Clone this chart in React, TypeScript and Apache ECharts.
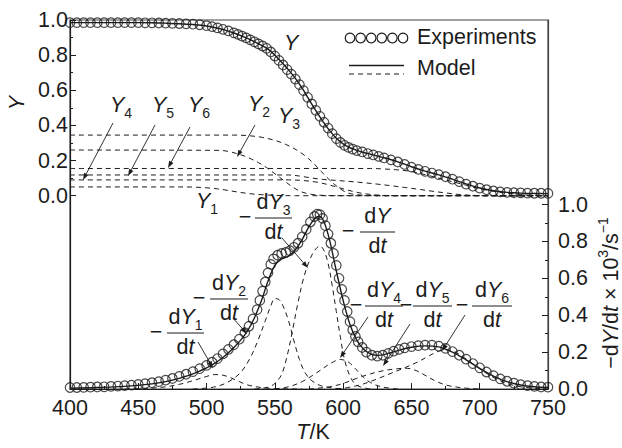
import React, { useEffect, useRef } from "react";
import * as echarts from "echarts";

// ---------- data (T in K) ----------
const xTicks = [400, 450, 500, 550, 600, 650, 700, 750];
const leftTickValues = [0, 0.2, 0.4, 0.6, 0.8, 1.0];
const leftMinorValues = [0.1, 0.3, 0.5, 0.7, 0.9];
const rightTickValues = [0, 0.2, 0.4, 0.6, 0.8, 1.0];
const rightMinorValues = [0.1, 0.3, 0.5, 0.7, 0.9];

// Experimental residual fraction Y
const expY: number[][] = [
  [400, 0.985], [405, 0.985], [410, 0.985], [415, 0.985], [420, 0.985], [425, 0.985], [430, 0.985],
  [435, 0.985], [440, 0.985], [445, 0.985], [450, 0.985], [455, 0.984], [460, 0.984], [465, 0.983],
  [470, 0.982], [475, 0.981], [480, 0.98], [485, 0.978], [490, 0.976], [495, 0.973], [500, 0.968],
  [504, 0.962], [508, 0.955], [512, 0.947], [516, 0.938], [520, 0.927], [523, 0.918], [526, 0.908],
  [529, 0.898], [532, 0.887], [535, 0.876], [538, 0.864], [541, 0.852], [544, 0.839], [547, 0.818],
  [550, 0.795], [553, 0.77], [556, 0.744], [559, 0.718], [562, 0.692], [565, 0.664], [568, 0.632],
  [571, 0.598], [574, 0.56], [577, 0.522], [580, 0.486], [583, 0.452], [586, 0.418], [589, 0.385],
  [592, 0.353], [595, 0.325], [598, 0.303], [601, 0.287], [604, 0.275], [607, 0.265], [610, 0.257],
  [614, 0.249], [618, 0.24], [622, 0.232], [626, 0.224], [630, 0.215], [635, 0.204], [640, 0.192],
  [645, 0.178], [650, 0.163], [655, 0.15], [660, 0.139], [665, 0.129], [670, 0.12], [675, 0.108],
  [680, 0.094], [685, 0.08], [690, 0.066], [695, 0.054], [700, 0.043], [705, 0.034], [710, 0.027],
  [715, 0.022], [720, 0.019], [725, 0.017], [730, 0.016], [735, 0.015], [740, 0.014], [745, 0.014],
  [750, 0.013],
];

// Model residual fraction Y
const modelY: number[][] = [
  [400, 0.985], [450, 0.985], [460, 0.984], [470, 0.982], [480, 0.979], [490, 0.974], [500, 0.966],
  [510, 0.95], [520, 0.926], [530, 0.895], [540, 0.857], [545, 0.834], [550, 0.8], [555, 0.76],
  [560, 0.716], [565, 0.668], [570, 0.612], [575, 0.548], [580, 0.484], [585, 0.425], [590, 0.372],
  [595, 0.327], [600, 0.295], [605, 0.273], [610, 0.258], [615, 0.246], [620, 0.236], [625, 0.226],
  [630, 0.216], [640, 0.193], [650, 0.165], [660, 0.14], [670, 0.119], [680, 0.094], [690, 0.067],
  [700, 0.044], [710, 0.028], [720, 0.019], [730, 0.015], [740, 0.013], [750, 0.012],
];

// Model component fractions Y1..Y6
const compY1: number[][] = [
  [400, 0.05], [480, 0.05], [490, 0.049], [500, 0.045], [508, 0.039], [515, 0.031], [522, 0.022],
  [530, 0.013], [540, 0.006], [550, 0.002], [565, 0], [750, 0],
];
const compY2: number[][] = [
  [400, 0.26], [510, 0.258], [516, 0.252], [522, 0.24], [528, 0.225], [533, 0.208], [538, 0.188],
  [544, 0.16], [550, 0.125], [556, 0.09], [562, 0.055], [568, 0.027], [575, 0.01], [585, 0.002],
  [600, 0], [750, 0],
];
const compY3: number[][] = [
  [400, 0.345], [520, 0.345], [530, 0.342], [540, 0.333], [550, 0.315], [558, 0.292], [566, 0.26],
  [572, 0.228], [578, 0.187], [584, 0.138], [590, 0.09], [596, 0.05], [602, 0.02], [608, 0.008],
  [620, 0.001], [640, 0], [750, 0],
];
const compY4: number[][] = [
  [400, 0.09], [560, 0.09], [570, 0.087], [580, 0.078], [588, 0.065], [595, 0.05], [602, 0.035],
  [609, 0.021], [616, 0.011], [625, 0.004], [640, 0], [750, 0],
];
const compY5: number[][] = [
  [400, 0.118], [560, 0.118], [568, 0.112], [576, 0.102], [585, 0.093], [595, 0.087], [605, 0.081],
  [615, 0.074], [625, 0.066], [635, 0.057], [645, 0.047], [655, 0.037], [665, 0.026], [675, 0.016],
  [685, 0.007], [695, 0.002], [705, 0], [750, 0],
];
const compY6: number[][] = [
  [400, 0.155], [620, 0.155], [630, 0.152], [640, 0.147], [650, 0.138], [660, 0.12], [670, 0.1],
  [680, 0.08], [690, 0.06], [700, 0.04], [710, 0.025], [720, 0.014], [730, 0.007], [740, 0.003],
  [750, 0.001],
];

// Experimental rate -dY/dt (x 10^3 s^-1)
const expRate: number[][] = [
  [400, 0.008], [405, 0.008], [410, 0.009], [415, 0.01], [420, 0.011], [425, 0.012], [430, 0.014],
  [435, 0.016], [440, 0.018], [445, 0.021], [450, 0.025], [455, 0.029], [460, 0.034], [465, 0.04],
  [470, 0.048], [475, 0.057], [480, 0.068], [485, 0.08], [490, 0.094], [495, 0.11], [500, 0.128],
  [504, 0.145], [508, 0.165], [512, 0.19], [516, 0.215], [520, 0.24], [524, 0.27], [528, 0.305],
  [531, 0.34], [534, 0.38], [537, 0.43], [539, 0.48], [541, 0.53], [543, 0.58], [545, 0.63],
  [547, 0.675], [549, 0.705], [552, 0.725], [555, 0.735], [558, 0.74], [561, 0.75], [564, 0.768],
  [567, 0.79], [570, 0.825], [573, 0.865], [576, 0.905], [579, 0.935], [581, 0.948], [583, 0.945],
  [585, 0.925], [587, 0.885], [589, 0.84], [591, 0.79], [593, 0.735], [595, 0.67], [597, 0.6],
  [599, 0.54], [601, 0.48], [603, 0.42], [605, 0.365], [607, 0.32], [609, 0.285], [611, 0.255],
  [614, 0.225], [617, 0.2], [621, 0.183], [625, 0.178], [629, 0.183], [633, 0.193], [637, 0.205],
  [641, 0.215], [645, 0.223], [650, 0.23], [655, 0.235], [660, 0.238], [665, 0.238], [670, 0.232],
  [675, 0.22], [680, 0.203], [685, 0.183], [690, 0.162], [695, 0.138], [700, 0.115], [705, 0.092],
  [710, 0.072], [715, 0.055], [720, 0.042], [725, 0.032], [730, 0.024], [735, 0.018], [740, 0.014],
  [745, 0.011], [750, 0.01],
];

// Model rate
const modelRate: number[][] = [
  [400, 0.005], [420, 0.008], [440, 0.014], [460, 0.028], [470, 0.04], [480, 0.058], [490, 0.082],
  [500, 0.115], [505, 0.135], [510, 0.16], [515, 0.19], [520, 0.225], [525, 0.265], [530, 0.315],
  [535, 0.385], [540, 0.475], [545, 0.585], [550, 0.67], [555, 0.705], [560, 0.72], [565, 0.755],
  [570, 0.81], [575, 0.88], [580, 0.93], [583, 0.935], [586, 0.905], [590, 0.81], [595, 0.64],
  [600, 0.48], [605, 0.35], [610, 0.265], [615, 0.215], [620, 0.19], [625, 0.182], [630, 0.186],
  [640, 0.208], [650, 0.226], [660, 0.234], [670, 0.228], [680, 0.2], [690, 0.158], [700, 0.112],
  [710, 0.07], [720, 0.04], [730, 0.022], [740, 0.012], [750, 0.008],
];

// Model component rates
const compRate1: number[][] = [
  [440, 0], [460, 0.005], [470, 0.012], [480, 0.025], [490, 0.045], [500, 0.068], [506, 0.078],
  [512, 0.075], [518, 0.06], [524, 0.04], [530, 0.022], [540, 0.008], [550, 0.002], [570, 0],
];
const compRate2: number[][] = [
  [490, 0], [505, 0.01], [515, 0.035], [525, 0.09], [532, 0.17], [538, 0.27], [543, 0.37],
  [547, 0.45], [550, 0.49], [553, 0.485], [556, 0.45], [560, 0.37], [564, 0.26], [568, 0.16],
  [572, 0.09], [577, 0.045], [585, 0.015], [600, 0],
];
const compRate3: number[][] = [
  [535, 0], [545, 0.01], [550, 0.03], [555, 0.08], [559, 0.18], [563, 0.32], [567, 0.47],
  [571, 0.6], [575, 0.69], [579, 0.75], [583, 0.775], [586, 0.75], [589, 0.68], [592, 0.56],
  [595, 0.42], [598, 0.28], [601, 0.16], [605, 0.07], [610, 0.02], [620, 0],
];
const compRate4: number[][] = [
  [550, 0], [560, 0.012], [570, 0.04], [580, 0.085], [590, 0.135], [598, 0.16], [604, 0.145],
  [609, 0.11], [614, 0.07], [620, 0.035], [628, 0.012], [640, 0],
];
const compRate5: number[][] = [
  [575, 0], [590, 0.012], [600, 0.03], [610, 0.058], [620, 0.082], [630, 0.1], [640, 0.11],
  [647, 0.112], [654, 0.098], [661, 0.07], [668, 0.042], [676, 0.02], [688, 0.006], [700, 0],
];
const compRate6: number[][] = [
  [595, 0], [605, 0.01], [615, 0.028], [625, 0.055], [635, 0.085], [645, 0.115], [655, 0.148],
  [663, 0.18], [670, 0.205], [676, 0.212], [682, 0.2], [690, 0.163], [698, 0.12], [706, 0.08],
  [714, 0.048], [722, 0.025], [732, 0.01], [745, 0.002], [750, 0],
];

// ---------- styling ----------
const FONT = "'Liberation Sans', Arial, Helvetica, sans-serif";
const INK = "#1c1c1c";
const FS = 21.5;

const rich: any = {
  n: { fontSize: FS, fontFamily: FONT, color: INK, lineHeight: 30 },
  i: { fontSize: FS, fontFamily: FONT, color: INK, fontStyle: "italic", lineHeight: 30 },
  s: { fontSize: 14, fontFamily: FONT, color: INK, lineHeight: 13, verticalAlign: "bottom" },
  p: { fontSize: 14, fontFamily: FONT, color: INK, lineHeight: 13, verticalAlign: "top" },
};

function txt(x: number, y: number, text: string, align = "left", rotation = 0): any {
  return {
    type: "text",
    x,
    y,
    rotation,
    z: 100,
    style: { text, rich, align, verticalAlign: "middle", fill: INK, font: `${FS}px ${FONT}` },
  };
}

function arrow(x1: number, y1: number, x2: number, y2: number): any[] {
  const ang = Math.atan2(y2 - y1, x2 - x1);
  const L = 7;
  const W = 2.4;
  const bx = x2 - L * Math.cos(ang);
  const by = y2 - L * Math.sin(ang);
  const px = -Math.sin(ang) * W;
  const py = Math.cos(ang) * W;
  return [
    { type: "line", z: 100, shape: { x1, y1, x2: bx, y2: by }, style: { stroke: INK, lineWidth: 0.9 } },
    {
      type: "polygon",
      z: 100,
      shape: { points: [[x2, y2], [bx + px, by + py], [bx - px, by - py]] },
      style: { fill: INK },
    },
  ];
}

function frac(xm: number, xb0: number, xb1: number, yb: number, sub: string): any[] {
  const cx = (xb0 + xb1) / 2;
  const num = sub ? `{n|d}{i|Y}{s|${sub}}` : `{n|d}{i|Y}`;
  return [
    txt(xm, yb - 1, "{n|−}", "center"),
    txt(cx, yb - 16, num, "center"),
    { type: "line", z: 100, shape: { x1: xb0, y1: yb, x2: xb1, y2: yb }, style: { stroke: INK, lineWidth: 1.2 } },
    txt(cx, yb + 14, "{n|d}{i|t}", "center"),
  ];
}

function dashed(name: string, data: number[][], yAxisIndex: number): any {
  return {
    name,
    type: "line",
    data,
    yAxisIndex,
    smooth: 0.35,
    showSymbol: false,
    silent: true,
    z: 3,
    lineStyle: { color: INK, width: 1, type: [5, 4] },
  };
}

function solid(name: string, data: number[][], yAxisIndex: number): any {
  return {
    name,
    type: "line",
    data,
    yAxisIndex,
    smooth: 0.35,
    showSymbol: false,
    silent: true,
    z: 4,
    lineStyle: { color: INK, width: 1.4 },
  };
}

function circles(name: string, data: number[][], yAxisIndex: number): any {
  return {
    name,
    type: "scatter",
    data,
    yAxisIndex,
    symbol: "circle",
    symbolSize: 9.5,
    silent: true,
    z: 5,
    itemStyle: { color: "rgba(255,255,255,0)", borderColor: INK, borderWidth: 1.2 },
  };
}

const axisLabelStyle = { fontSize: FS, fontFamily: FONT, color: INK };

export default function App() {
  const ref = useRef<HTMLDivElement>(null);

  useEffect(() => {
    if (!ref.current) return;
    const chart = echarts.init(ref.current, undefined, { renderer: "svg" });

    const graphics: any[] = [];
    // legend
    for (let k = 0; k < 6; k++) {
      graphics.push({
        type: "circle",
        z: 100,
        shape: { cx: 350 + k * 10.6, cy: 38, r: 4.8 },
        style: { fill: "none", stroke: INK, lineWidth: 1.2 },
      });
    }
    graphics.push(txt(417, 37, "{n|Experiments}"));
    graphics.push({ type: "line", z: 100, shape: { x1: 349, y1: 65.5, x2: 404, y2: 65.5 }, style: { stroke: INK, lineWidth: 1.4 } });
    graphics.push({ type: "line", z: 100, shape: { x1: 349, y1: 74, x2: 404, y2: 74 }, style: { stroke: INK, lineWidth: 1, lineDash: [5, 4] } });
    graphics.push(txt(417, 68, "{n|Model}"));

    // axis names
    graphics.push(txt(17, 103, "{i|Y}", "center", Math.PI / 2));
    graphics.push(txt(611, 293, "{n|−d}{i|Y}{n|/d}{i|t}{n| × 10}{p|3}{n|/s}{p|−1}", "center", Math.PI / 2));
    graphics.push(txt(313, 432, "{i|T}{n|/K}", "center"));

    // top labels
    graphics.push(txt(284, 43, "{i|Y}"));
    graphics.push(txt(110, 105, "{i|Y}{s|4}"));
    graphics.push(txt(152, 105, "{i|Y}{s|5}"));
    graphics.push(txt(188, 105, "{i|Y}{s|6}"));
    graphics.push(txt(248, 104, "{i|Y}{s|2}"));
    graphics.push(txt(278, 116, "{i|Y}{s|3}"));
    graphics.push(txt(196, 201, "{i|Y}{s|1}"));
    graphics.push(...arrow(113, 123, 83, 180));
    graphics.push(...arrow(155, 125, 128, 176));
    graphics.push(...arrow(190, 127, 168, 168));
    graphics.push(...arrow(255, 125, 237, 157));

    // rate labels
    graphics.push(...frac(156, 167, 204, 333, "1"));
    graphics.push(...frac(199, 210, 248, 299, "2"));
    graphics.push(...frac(245, 255, 292, 218, "3"));
    graphics.push(...frac(348, 360, 395, 232, ""));
    graphics.push(...frac(356, 365, 403, 306, "4"));
    graphics.push(...frac(406, 413, 452, 306, "5"));
    graphics.push(...frac(462, 472, 512, 306, "6"));
    graphics.push(...arrow(198, 342, 213, 368));
    graphics.push(...arrow(233, 318, 247, 334));
    graphics.push(...arrow(282, 238, 308, 268));
    graphics.push(...arrow(368, 317, 340, 358));
    graphics.push(...arrow(410, 324, 383, 366));
    graphics.push(...arrow(465, 315, 442, 351));

    const option: any = {
      animation: false,
      backgroundColor: "#ffffff",
      grid: {
        left: 70,
        right: 74,
        top: 20,
        bottom: 59,
        show: true,
        borderColor: "#444",
        borderWidth: 1.2,
        backgroundColor: "transparent",
      },
      xAxis: {
        type: "value",
        min: xTicks[0],
        max: xTicks[xTicks.length - 1],
        interval: 50,
        axisLine: { show: true, onZero: false, lineStyle: { color: INK, width: 1.2 } },
        axisTick: { show: true, inside: true, length: 6, lineStyle: { color: INK, width: 1 } },
        minorTick: { show: true, splitNumber: 2, length: 3, lineStyle: { color: INK, width: 1 } },
        axisLabel: { ...axisLabelStyle, margin: 8 },
        splitLine: { show: false },
      },
      yAxis: [
        {
          type: "value",
          min: -1.1,
          max: 1.0,
          position: "left",
          axisLine: { show: true, onZero: false, lineStyle: { color: INK, width: 1.2 } },
          axisTick: { show: true, inside: true, length: 6, customValues: leftTickValues, lineStyle: { color: INK, width: 1 } },
          axisLabel: { ...axisLabelStyle, margin: 2, customValues: leftTickValues, formatter: (v: number) => v.toFixed(1) },
          splitLine: { show: false },
        },
        {
          type: "value",
          min: -1.1,
          max: 1.0,
          position: "left",
          axisLine: { show: false },
          axisTick: { show: true, inside: true, length: 3, customValues: leftMinorValues, lineStyle: { color: INK, width: 1 } },
          axisLabel: { show: false },
          splitLine: { show: false },
        },
        {
          type: "value",
          min: 0,
          max: 2.0,
          position: "right",
          axisLine: { show: true, onZero: false, lineStyle: { color: "#444", width: 1.2 } },
          axisTick: { show: true, inside: true, length: 6, customValues: rightTickValues, lineStyle: { color: INK, width: 1 } },
          axisLabel: { ...axisLabelStyle, margin: 10, customValues: rightTickValues, formatter: (v: number) => v.toFixed(1) },
          splitLine: { show: false },
        },
        {
          type: "value",
          min: 0,
          max: 2.0,
          position: "right",
          axisLine: { show: false },
          axisTick: { show: true, inside: true, length: 3, customValues: rightMinorValues, lineStyle: { color: INK, width: 1 } },
          axisLabel: { show: false },
          splitLine: { show: false },
        },
      ],
      series: [
        dashed("Y1", compY1, 0),
        dashed("Y2", compY2, 0),
        dashed("Y3", compY3, 0),
        dashed("Y4", compY4, 0),
        dashed("Y5", compY5, 0),
        dashed("Y6", compY6, 0),
        solid("Y model", modelY, 0),
        circles("Y experiments", expY, 0),
        dashed("-dY1/dt", compRate1, 2),
        dashed("-dY2/dt", compRate2, 2),
        dashed("-dY3/dt", compRate3, 2),
        dashed("-dY4/dt", compRate4, 2),
        dashed("-dY5/dt", compRate5, 2),
        dashed("-dY6/dt", compRate6, 2),
        solid("-dY/dt model", modelRate, 2),
        circles("-dY/dt experiments", expRate, 2),
      ],
      graphic: graphics,
    };

    chart.setOption(option);
    return () => chart.dispose();
  }, []);

  return (
    <div
      ref={ref}
      style={{ position: "fixed", left: 0, top: 0, width: 622, height: 448, background: "#fff" }}
    />
  );
}
